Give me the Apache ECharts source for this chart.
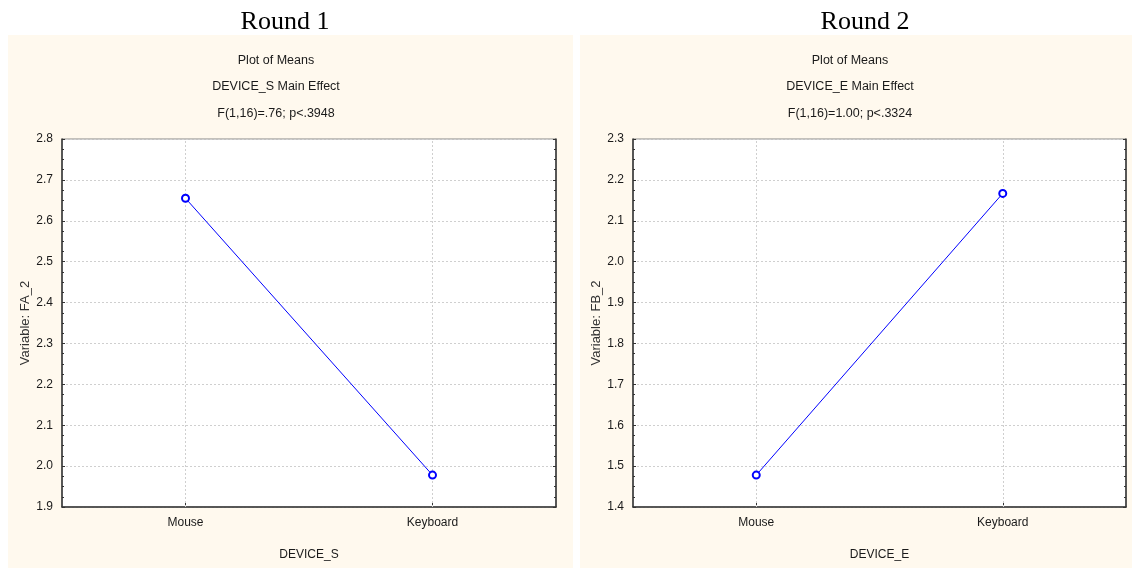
<!DOCTYPE html>
<html><head><meta charset="utf-8">
<script src="https://cdn.jsdelivr.net/npm/echarts@6/dist/echarts.min.js"></script>
<style>html,body{margin:0;padding:0;background:#fff}#c{width:1132px;height:571px}</style>
</head><body><div id="c"></div>
<script>
const categories = ['Mouse', 'Keyboard'];
const round1Values = [2.655, 1.978];
const round2Values = [1.478, 2.167];
const panelHeadings = ['Round 1', 'Round 2'];
const plotTitles = ['Plot of Means', 'Plot of Means'];
const effectTitles = ['DEVICE_S Main Effect', 'DEVICE_E Main Effect'];
const statTitles = ['F(1,16)=.76; p<.3948', 'F(1,16)=1.00; p<.3324'];
const yNames = ['Variable: FA_2', 'Variable: FB_2'];
const xNames = ['DEVICE_S', 'DEVICE_E'];
const yRanges = [[1.9, 2.8], [1.4, 2.3]];
const allValues = [round1Values, round2Values];

const NARROW = '"Liberation Sans Narrow", "Arial Narrow", "Liberation Sans", sans-serif';
const SMALL = {fontFamily: NARROW, fontSize: 12, color: '#1a1a1a', letterSpacing: -0.4};
const grids = [
  {left: 62, top: 139, width: 494, height: 368},
  {left: 633, top: 139, width: 493, height: 368}
];
const panels = [{x: 8, w: 565}, {x: 580, w: 552}];
const headingLeft = [280, 860];
const subLeft = [271, 845];

const chart = echarts.init(document.getElementById('c'), null, {renderer: 'canvas'});
const title = [], grid = [], xAxis = [], yAxis = [], series = [], graphic = [];
panels.forEach((p, i) => {
  graphic.push({type: 'rect', z: -10, shape: {x: p.x, y: 35, width: p.w, height: 533}, style: {fill: '#FFF9EE'}, silent: true});
  title.push({text: panelHeadings[i], left: headingLeft[i], top: 4, textAlign: 'center',
    textStyle: {fontFamily: '"Liberation Serif", "Times New Roman", serif', fontSize: 26, fontWeight: 'normal', color: '#000'}});
  [plotTitles[i], effectTitles[i], statTitles[i]].forEach((t, k) => {
    title.push({text: t, left: subLeft[i], top: 49 + k * 26.5, textAlign: 'center',
      textStyle: Object.assign({fontWeight: 'normal'}, SMALL, {fontSize: 12.5})});
  });
  grid.push(Object.assign({show: true, backgroundColor: '#fff', borderColor: '#888', borderWidth: 1}, grids[i]));
  xAxis.push({type: 'category', gridIndex: i, data: categories, boundaryGap: true,
    name: xNames[i], nameLocation: 'middle', nameGap: 42,
    nameTextStyle: SMALL,
    axisLine: {lineStyle: {color: '#333', width: 1.5}},
    axisTick: {show: true, alignWithLabel: true, inside: true, length: 4, lineStyle: {color: '#333'}},
    axisLabel: Object.assign({margin: 10}, SMALL),
    splitLine: {show: false}});
  const [mn, mx] = yRanges[i];
  yAxis.push({type: 'value', gridIndex: i, min: mn, max: mx, interval: 0.1,
    name: yNames[i], nameLocation: 'middle', nameGap: 27, nameRotate: 90,
    nameTextStyle: {fontFamily: '"Liberation Sans", Arial, sans-serif', fontSize: 13, color: '#333', letterSpacing: 1.6},
    axisLine: {show: true, lineStyle: {color: '#333', width: 1.5}},
    axisTick: {show: true, inside: true, length: 3, lineStyle: {color: '#333'}},
    minorTick: {show: true, splitNumber: 4, length: 2, lineStyle: {color: '#333'}},
    axisLabel: Object.assign({margin: 9, formatter: v => v.toFixed(1)}, SMALL),
    splitLine: {show: true, lineStyle: {color: '#cfcfcf', type: [2, 2], width: 1}}});
  yAxis.push({type: 'value', gridIndex: i, min: mn, max: mx, interval: 0.1, position: 'right',
    axisLine: {show: true, lineStyle: {color: '#333', width: 1.5}},
    axisTick: {show: true, inside: true, length: 3, lineStyle: {color: '#333'}},
    minorTick: {show: true, splitNumber: 4, length: 2, lineStyle: {color: '#333'}},
    axisLabel: {show: false}, splitLine: {show: false}});
  series.push({type: 'line', xAxisIndex: i, yAxisIndex: i * 2, data: allValues[i],
    symbol: 'emptyCircle', symbolSize: 7, lineStyle: {color: '#0000FF', width: 1},
    itemStyle: {color: '#0000FF', borderWidth: 1}, animation: false,
    markLine: {silent: true, symbol: 'none', label: {show: false}, z: 1,
      lineStyle: {color: '#cfcfcf', type: [2, 2], width: 1},
      data: categories.map(c => ({xAxis: c}))}});
});
chart.setOption({animation: false, title, grid, xAxis, yAxis, series, graphic});
</script></body></html>
